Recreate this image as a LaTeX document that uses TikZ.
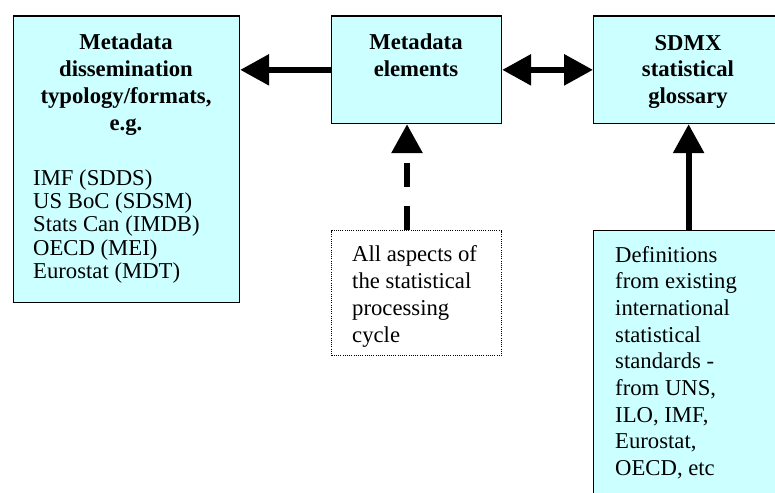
\documentclass[tikz,border=0pt]{standalone}
\usepackage{fontspec}
\setmainfont{Liberation Serif}
\usetikzlibrary{arrows.meta}
\definecolor{boxcyan}{HTML}{CCFFFF}
\begin{document}
\begin{tikzpicture}[x=1pt,y=-1pt,
  box/.style={draw=black, line width=1.2pt, fill=boxcyan, rectangle, inner sep=0pt, anchor=north west},
  dotbox/.style={draw=black, line width=1pt, dash pattern=on 1pt off 1.2pt, fill=white, rectangle, inner sep=0pt, anchor=north west},
  title/.style={font=\fontsize{22.7}{26.7}\selectfont\bfseries, align=center, anchor=base, inner sep=0pt},
  body/.style={font=\fontsize{22.7}{26.7}\selectfont, align=left, anchor=base west, inner sep=0pt},
  list/.style={font=\fontsize{22.7}{23.3}\selectfont, align=left, anchor=base west, inner sep=0pt},
  head/.tip={Triangle[length=29pt,width=30pt]},
  bigarrow/.style={line width=6pt, -head},
  dblarrow/.style={line width=6pt, head-head},
]
\path[use as bounding box] (0,0) rectangle (775,492);
\clip (0,0) rectangle (775,492);

\node[box, minimum width=226pt, minimum height=286pt] (L) at (13,15.5) {};
\node[box, minimum width=170pt, minimum height=107.5pt] (M) at (331,15.5) {};
\node[box, minimum width=190pt, minimum height=107.5pt] (S) at (593,15.5) {};
\node[dotbox, minimum width=170pt, minimum height=125pt] (D) at (331,230) {};
\node[box, minimum width=190pt, minimum height=300pt] (G) at (593,229.5) {};

% multi-line nodes: base anchor = baseline of the last line
\node[title] (Lt) at (126,130) {Metadata\\dissemination\\typology/formats,\\e.g.};
\node[list] (Ll) at (33,278.3) {IMF (SDDS)\\US BoC (SDSM)\\Stats Can (IMDB)\\OECD (MEI)\\Eurostat (MDT)};
\node[title] (Mt) at (416,76.7) {Metadata\\elements};
\node[title] (St) at (688,103.4) {SDMX\\statistical\\glossary};
\node[body] (Dt) at (352,342) {All aspects of\\the statistical\\processing\\cycle};
\node[body] (Gt) at (615,475.6) {Definitions\\from existing\\international\\statistical\\standards -\\from UNS,\\ILO, IMF,\\Eurostat,\\OECD, etc};

\coordinate (ax) at (407,0);
\draw[bigarrow] (M.west) -- (M.west -| L.east);
\draw[dblarrow] (M.east) -- (S.west);
\draw[bigarrow, dash pattern=on 24pt off 19pt] (D.north -| ax) -- (M.south -| ax);
\draw[bigarrow] (G.north) -- (S.south);
\end{tikzpicture}
\end{document}
